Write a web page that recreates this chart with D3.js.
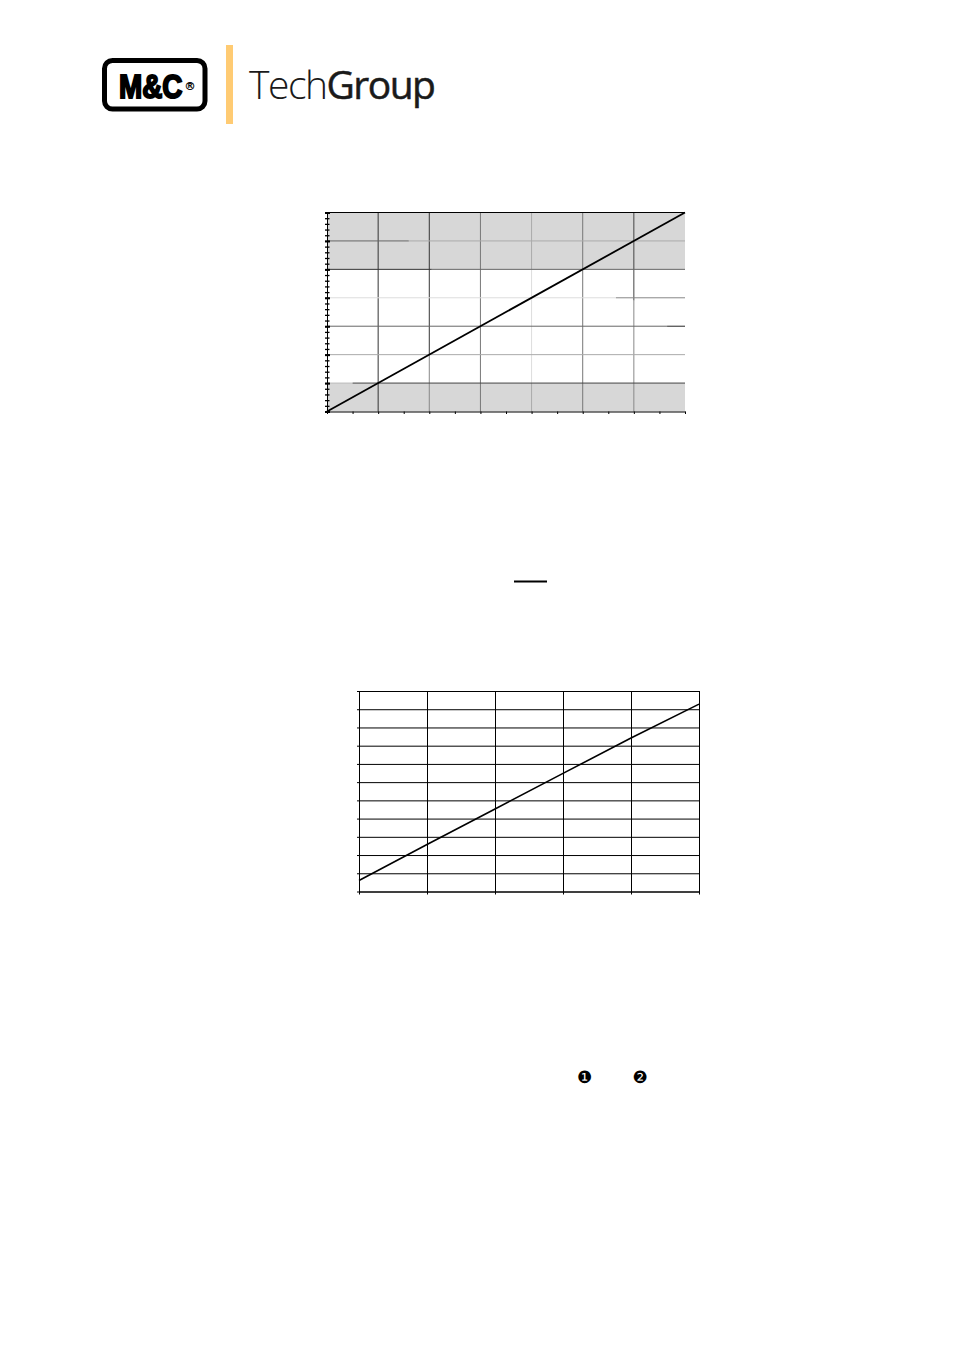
<!DOCTYPE html>
<html><head><meta charset="utf-8">
<script src="https://cdn.jsdelivr.net/npm/d3@7"></script>
<style>html,body{margin:0;padding:0;background:#fff}svg{display:block}</style></head>
<body><svg id="page" width="954" height="1350"></svg>
<script>
// Chart 1: scale axis, unlabeled in the reference
const rangeXMajor = [0,1,2,3,4,5,6,7];
const rangeXMinor = [0,0.5,1,1.5,2,2.5,3,3.5,4,4.5,5,5.5,6,6.5,7];
const rangeYMajor = [0,1,2,3,4,5,6,7];
const rangeLineX = [0,7];
const rangeLineY = [0,7];
const greyBands = [[0,1],[5,7]];
// Chart 2: unlabeled grid
const trendXTicks = [0,1,2,3,4,5];
const trendYTicks = [0,1,2,3,4,5,6,7,8,9,10,11];
const trendLineX = [0,1,2,3,4,5];
const trendLineY = [0.6,2.58,4.53,6.48,8.42,10.28];

const svg = d3.select('#page');

/* ---------- logo ---------- */
const logo = svg.append('g');
logo.append('rect').attr('x',104.5).attr('y',60.5).attr('width',100.5).attr('height',48.5).attr('rx',8)
  .attr('fill','#fff').attr('stroke','#000').attr('stroke-width',5);
logo.append('text').attr('transform','translate(119,98) scale(.82,1)').attr('font-family','"Liberation Sans"').attr('font-weight',700)
  .attr('font-size',34).attr('stroke','#000').attr('stroke-width',2).text('M&C');
logo.append('text').attr('x',184.5).attr('y',90).attr('font-family','"DejaVu Sans"').attr('font-weight',400)
  .attr('font-size',11).attr('stroke','#000').attr('stroke-width',.3).text('®');
logo.append('rect').attr('x',226).attr('y',45).attr('width',7).attr('height',79).attr('fill','#FFCB73');
const brand = logo.append('text').attr('x',249).attr('y',99).attr('font-family','"Open Sans"').attr('font-size',39)
  .attr('letter-spacing',-1.5).attr('fill','#1a1a1a');
brand.append('tspan').attr('font-weight',300).text('Tech');
brand.append('tspan').attr('font-weight',500).attr('stroke','#1a1a1a').attr('stroke-width',.5).text('Group');

/* ---------- chart 1 ---------- */
const x1 = d3.scaleLinear().domain([0,7]).range([327,685]);
const y1 = d3.scaleLinear().domain([0,7]).range([411.5,212.5]);
const c1 = svg.append('g');
c1.selectAll('rect.band').data(greyBands).join('rect').attr('class','band')
  .attr('x',x1(0)).attr('width',x1(7)-x1(0))
  .attr('y',d=>y1(d[1])).attr('height',d=>y1(d[0])-y1(d[1])).attr('fill','#d7d7d7');

// faded grid strokes: [value, from, to, colour]
const vGrid = [[1,0,7,'#333'],[2,2,7,'#333'],[2,0,2,'#888'],[3,0,7,'#777'],[4,5,7,'#aaa'],[4,1,5,'#ddd'],[4,0,1,'#aaa'],[5,0,7,'#777'],[6,3.9,7,'#444'],[6,0,3.9,'#888']];
const hGrid = [[6,0,1.6,'#666'],[6,1.6,7,'#aaa'],[5,0,2.05,'#333'],[5,2.05,7,'#666'],[4,0,5.65,'#ddd'],[4,5.65,7,'#888'],[3,0,6.65,'#666'],[3,6.65,7,'#222'],[2,0,7,'#aaa'],[1,0,.5,'#bbb'],[1,.5,7,'#444']];
c1.selectAll('line.v').data(vGrid).join('line').attr('class','v')
  .attr('x1',d=>x1(d[0])).attr('x2',d=>x1(d[0])).attr('y1',d=>y1(d[1])).attr('y2',d=>y1(d[2]))
  .attr('stroke',d=>d[3]).attr('stroke-width',1);
c1.selectAll('line.h').data(hGrid).join('line').attr('class','h')
  .attr('y1',d=>y1(d[0])).attr('y2',d=>y1(d[0])).attr('x1',d=>x1(d[1])).attr('x2',d=>x1(d[2]))
  .attr('stroke',d=>d[3]).attr('stroke-width',1);
// frame
c1.append('line').attr('x1',x1(0)).attr('x2',x1(7)).attr('y1',y1(7)).attr('y2',y1(7)).attr('stroke','#000');

// axes
c1.append('g').attr('transform',`translate(0,${y1(0)})`)
  .call(d3.axisBottom(x1).tickValues(rangeXMinor).tickSize(2.5).tickSizeOuter(0).tickFormat(''));
const ax1l = c1.append('g').attr('transform',`translate(${x1(0)},0)`)
  .call(d3.axisLeft(y1).tickValues(d3.range(0,7.01,0.2)).tickSize(2).tickSizeOuter(0).tickFormat(''));
ax1l.selectAll('.tick line').attr('x2',2.5).attr('x1',-2).attr('stroke','#000').attr('stroke-width',1.3);
c1.append('g').attr('transform',`translate(${x1(0)},0)`)
  .call(d3.axisLeft(y1).tickValues(rangeYMajor).tickSize(2).tickSizeOuter(0).tickFormat(''))
  .selectAll('.tick line').attr('x2',3).attr('x1',-2).attr('stroke-width',2);
c1.selectAll('path.domain').attr('stroke','#000');
const line1 = d3.line().x(d=>x1(d[0])).y(d=>y1(d[1]));
c1.append('path').datum(d3.zip(rangeLineX,rangeLineY)).attr('d',line1)
  .attr('fill','none').attr('stroke','#000').attr('stroke-width',1.8);

/* ---------- dash in the text block ---------- */
svg.append('rect').attr('x',514).attr('y',580.5).attr('width',33).attr('height',2).attr('fill','#000');

/* ---------- chart 2 ---------- */
const x2 = d3.scaleLinear().domain([0,5]).range([359,699]);
const y2 = d3.scaleLinear().domain([0,11]).range([891.5,691]);
const c2 = svg.append('g');
const ax2b = c2.append('g').attr('transform',`translate(0,${y2(0)})`)
  .call(d3.axisBottom(x2).tickValues(trendXTicks).tickSizeInner(-(y2(0)-y2(11))).tickSizeOuter(0).tickFormat(''));
ax2b.selectAll('.tick line').attr('y2',3).attr('y1',-(y2(0)-y2(11))).attr('stroke','#000');
const ax2l = c2.append('g').attr('transform',`translate(${x2(0)},0)`)
  .call(d3.axisLeft(y2).tickValues(trendYTicks).tickSizeOuter(0).tickFormat(''));
ax2l.selectAll('.tick line').attr('x1',-2).attr('x2',x2(5)-x2(0)).attr('stroke','#000');
c2.selectAll('path.domain').attr('stroke','#000');
const line2 = d3.line().x(d=>x2(d[0])).y(d=>y2(d[1]));
c2.append('path').datum(d3.zip(trendLineX,trendLineY)).attr('d',line2)
  .attr('fill','none').attr('stroke','#000').attr('stroke-width',1.6);

/* ---------- bullets ---------- */
svg.selectAll('text.b').data([['❶',584.5],['❷',640]]).join('text').attr('class','b')
  .attr('x',d=>d[1]).attr('y',1083).attr('text-anchor','middle')
  .attr('font-family','"DejaVu Sans"').attr('font-size',17).attr('fill','#000').text(d=>d[0]);
</script></body></html>
